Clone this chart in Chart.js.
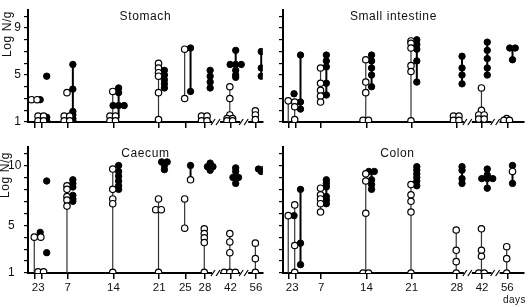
<!DOCTYPE html>
<html>
<head>
<meta charset="utf-8">
<script src="https://cdn.jsdelivr.net/npm/chart.js@4.4.1/dist/chart.umd.min.js"></script>
<style>
  body { margin: 0; background: #fff; }
  #fig { position: relative; width: 529px; height: 307px; font-family: "Liberation Sans", Arial, sans-serif; }
  #fig canvas { position: absolute; }
  #days { position: absolute; left: 503px; top: 294px; font-size: 10px; color: #111; letter-spacing: 0.5px; }
</style>
</head>
<body>
<div id="fig">
  <canvas id="stomach" width="268" height="137" style="left:0;top:0"></canvas>
  <canvas id="smallInt" width="276" height="137" style="left:253px;top:0"></canvas>
  <canvas id="caecum" width="268" height="170" style="left:0;top:137px"></canvas>
  <canvas id="colon" width="276" height="170" style="left:253px;top:137px"></canvas>
  <div id="days">days</div>
</div>
<script>
// sampling days (left panels have day 25, right panels don't)
const daysLeft = [2, 3, 7, 14, 21, 25, 28, 42, 56];
const daysRight = [2, 3, 7, 14, 21, 28, 42, 56];

// Stomach: log N/g per day, open = one group, filled = the other
const stomachOpen = [
  [2.9, 2.9], [1.5, 1.5, 1.1, 1.1], [3.5, 1.5, 1.5, 1.1, 1.1], [3.6, 1.5, 1.5, 1.1, 1.1],
  [6.0, 5.6, 5.2, 4.9, 3.5, 1.2], [7.2, 3.0], [1.5, 1.5, 1.1, 1.1],
  [4.0, 3.0, 1.6, 1.3, 1.3, 1.1, 1.1], [1.95, 1.6, 1.2]
];
const stomachFilled = [
  [2.9], [4.9, 1.4, 1.1], [5.9, 3.8, 1.9, 1.6, 1.3, 1.1], [3.9, 3.5, 2.4, 2.4, 2.4],
  [5.4, 5.0, 4.6, 4.25, 3.9], [7.3, 3.6], [5.4, 4.9, 4.4, 3.9],
  [7.1, 5.9, 5.9, 5.9, 5.4, 5.0, 4.8], [7.0, 5.6, 4.9]
];
const stomachOpenLines = [[14, 1.1, 3.6], [21, 1.2, 6.0], [25, 3.0, 7.2], [42, 1.1, 4.0], [56, 1.2, 1.95]];
const stomachFilledLines = [[7, 1.1, 5.9], [14, 1.3, 3.9], [21, 3.9, 5.4], [25, 3.6, 7.3], [42, 4.8, 7.1], [56, 4.9, 7.0]];

// Small intestine
const siOpen = [
  [2.8], [2.7, 2.3, 1.2], [5.6, 4.3, 3.7, 3.2, 2.7], [6.3, 4.4, 3.5, 1.15, 1.15],
  [7.9, 7.7, 7.3, 5.8, 5.3, 1.1], [1.5, 1.5, 1.15, 1.15],
  [3.9, 2.0, 1.6, 1.6, 1.25, 1.25], [1.3, 1.15, 1.15]
];
const siFilled = [
  [3.4], [6.7, 2.7, 2.1], [6.7, 6.2, 5.7, 4.3, 3.3], [6.7, 6.2, 5.6, 5.0, 4.0],
  [8.0, 7.6, 7.2, 6.2, 4.4], [6.6, 5.6, 5.0, 4.25], [7.8, 7.1, 6.4, 5.6, 5.0], [7.3, 7.3, 6.3]
];
const siOpenLines = [[2, 1.0, 2.8], [3, 1.2, 2.7], [7, 4.3, 5.6], [14, 1.15, 6.3], [21, 1.1, 7.9], [42, 1.25, 3.9]];
const siFilledLines = [[3, 2.1, 6.7], [7, 3.3, 6.7], [14, 4.0, 6.7], [21, 4.4, 8.0], [28, 4.25, 6.6], [42, 5.0, 7.8], [56, 6.3, 7.3]];

// Caecum
const caecumOpen = [
  [4.0], [4.0, 1.1, 1.1], [8.3, 8.0, 7.4, 7.1, 6.6], [9.7, 8.0, 7.2, 6.8, 1.05],
  [7.2, 6.3, 6.3, 1.05], [7.2, 4.75], [4.7, 4.3, 3.95, 3.55, 1.05],
  [4.3, 3.6, 2.7, 1.05, 1.05, 1.05], [3.5, 2.2, 1.05]
];
const caecumFilled = [
  [4.4], [8.7, 2.7], [8.8, 8.5, 8.2, 7.5, 7.2, 7.0], [10.0, 9.5, 9.1, 8.7, 8.3, 8.0],
  [10.3, 10.3, 10.0, 9.65], [10.0], [10.2, 9.9, 9.9, 9.6], [9.8, 9.5, 9.0, 9.0, 8.5], [9.7, 9.7, 9.5]
];
const caecumOpenInFilled = [[25, 8.8]];
const caecumOpenLines = [[2, 1.0, 4.0], [7, 1.0, 6.6], [14, 1.05, 9.7], [21, 1.05, 7.2], [25, 4.75, 7.2], [28, 1.05, 4.7], [42, 1.05, 4.3], [56, 1.05, 3.5]];
const caecumFilledLines = [[14, 8.0, 10.0], [21, 9.65, 10.3], [25, 8.8, 10.0]];

// Colon
const colonOpen = [
  [5.8], [6.7, 3.3, 1.05], [8.1, 7.55, 7.2, 6.8, 6.1], [9.3, 8.7, 6.0, 1.0, 1.0],
  [8.4, 7.55, 7.0, 6.1, 1.0], [4.6, 2.9, 1.95, 1.0], [4.7, 2.9, 2.4, 1.0, 1.0], [3.2, 2.2, 1.0]
];
const colonFilled = [
  [5.8], [8.0, 3.5, 1.7], [8.8, 8.5, 8.2, 7.4, 7.1, 6.8], [9.5, 9.5, 8.8, 8.4, 8.0],
  [9.9, 9.6, 9.3, 9.0, 8.7, 8.3], [9.9, 9.6, 8.9, 8.5], [9.7, 9.2, 8.9, 8.9, 8.9, 8.1], [10.0, 8.5]
];
const colonOpenInFilled = [[56, 9.5]];
const colonOpenLines = [[2, 1.0, 5.8], [3, 1.05, 6.7], [7, 6.1, 8.1], [14, 1.0, 9.3], [21, 1.0, 8.4], [28, 1.0, 4.6], [42, 1.0, 4.7], [56, 1.0, 3.2]];
const colonFilledLines = [[3, 1.7, 8.0], [7, 6.8, 8.8], [14, 8.0, 9.5], [21, 8.3, 9.9], [28, 8.5, 9.9], [42, 8.1, 9.7], [56, 8.5, 10.0]];

// broken time axis: after day 28 the scale is compressed
const axisPos = d => d <= 28 ? d : 28 + (d - 28) * 0.279;
const axisBreaks = [29.7, 34.0];

const OPEN_OFF = -0.1, FILLED_OFF = 0.8;

function spread(groups, days, off) {
  const pts = [];
  groups.forEach((vals, i) => {
    const count = {}, used = {};
    vals.forEach(v => { count[v] = (count[v] || 0) + 1; });
    vals.forEach(v => {
      const k = used[v] || 0;
      used[v] = k + 1;
      pts.push({ x: axisPos(days[i]) + off + (k - (count[v] - 1) / 2) * 0.85, y: v });
    });
  });
  return pts;
}

function stems(lines, off) {
  const pts = [];
  lines.forEach(([d, lo, hi]) => {
    const x = axisPos(d) + off;
    pts.push({ x: x, y: lo }, { x: x, y: hi }, { x: x, y: null });
  });
  return pts;
}

const panelText = {
  id: 'panelText',
  afterDraw(chart, args, opts) {
    const ctx = chart.ctx, a = chart.chartArea, xs = chart.scales.x;
    ctx.save();
    // axis breaks
    axisBreaks.forEach(p => {
      const px = xs.getPixelForValue(p), py = a.bottom;
      ctx.fillStyle = '#fff';
      ctx.fillRect(px - 4, py - 2, 8, 4);
      ctx.strokeStyle = '#000';
      ctx.lineWidth = 1.2;
      ctx.beginPath();
      ctx.moveTo(px - 5, py + 3); ctx.lineTo(px - 1, py - 3);
      ctx.moveTo(px, py + 3); ctx.lineTo(px + 4, py - 3);
      ctx.stroke();
    });
    ctx.fillStyle = '#111';
    ctx.font = '12px "Liberation Sans", Arial, sans-serif';
    ctx.textAlign = 'center';
    ctx.textBaseline = 'middle';
    if ('letterSpacing' in ctx) ctx.letterSpacing = '0.6px';
    ctx.fillText(opts.title, (a.left + a.right) / 2 + (opts.titleDx || 0), a.top + 6);
    if (opts.ylabel) {
      ctx.translate(opts.ylabelX || 8, opts.ylabelY);
      ctx.rotate(-Math.PI / 2);
      ctx.fillText(opts.ylabel, 0, 0);
    }
    ctx.restore();
  }
};

function makePanel(id, cfg) {
  const font = { family: '"Liberation Sans", Arial, sans-serif', size: 12 };
  const xFont = { family: '"Liberation Sans", Arial, sans-serif', size: 11.5 };
  const datasets = [
    { type: 'line', data: stems(cfg.openLines, OPEN_OFF), borderColor: '#333', borderWidth: 1.2,
      pointRadius: 0, spanGaps: false, fill: false, order: 4 },
    { type: 'line', data: stems(cfg.filledLines, FILLED_OFF), borderColor: '#000', borderWidth: 2,
      pointRadius: 0, spanGaps: false, fill: false, order: 3 },
    { data: spread(cfg.filled, cfg.days, FILLED_OFF), backgroundColor: '#000', borderColor: '#000',
      borderWidth: 1, pointRadius: 3.2, order: 2 },
    { data: spread(cfg.open, cfg.days, OPEN_OFF)
        .concat((cfg.openInFilled || []).map(([d, v]) => ({ x: axisPos(d) + FILLED_OFF, y: v }))),
      backgroundColor: '#fff', borderColor: '#000', borderWidth: 1.2, pointRadius: 3.2, order: 1 }
  ];
  new Chart(document.getElementById(id), {
    type: 'scatter',
    data: { datasets: datasets },
    plugins: [panelText],
    options: {
      responsive: false,
      animation: false,
      layout: { padding: cfg.padding },
      plugins: {
        legend: { display: false },
        tooltip: { enabled: false },
        panelText: { title: cfg.title, titleDx: cfg.titleDx, ylabel: cfg.ylabel, ylabelX: cfg.ylabelX, ylabelY: cfg.ylabelY }
      },
      scales: {
        x: {
          type: 'linear',
          min: cfg.xMin,
          max: cfg.xMax,
          afterBuildTicks: s => { s.ticks = cfg.days.map(d => ({ value: axisPos(d) })); },
          afterFit: s => { s.height = cfg.xh; },
          ticks: {
            autoSkip: false, maxRotation: 0, padding: 2, color: '#111', font: xFont,
            callback: (v, i) => cfg.showX ? String(cfg.days[i]) : ''
          },
          grid: { drawOnChartArea: false, drawTicks: true, tickLength: 6, color: '#000', lineWidth: 1.5 },
          border: { display: true, color: '#000', width: 2 }
        },
        y: {
          type: 'linear',
          min: 1,
          max: cfg.yMax,
          afterFit: s => { s.width = cfg.yw; },
          ticks: {
            stepSize: 1, includeBounds: false, autoSkip: false, padding: 3, color: '#111', font: font,
            crossAlign: cfg.yAlign || 'near',
            callback: v => cfg.yLabels.includes(Math.round(v)) ? String(Math.round(v)) : ''
          },
          grid: { drawOnChartArea: false, drawTicks: true, tickLength: 4, color: '#000', lineWidth: 1.2 },
          border: { display: true, color: '#000', width: 2 }
        }
      }
    }
  });
}

makePanel('stomach', {
  title: 'Stomach', ylabel: 'Log N/g', ylabelY: 34, days: daysLeft,
  open: stomachOpen, filled: stomachFilled, openLines: stomachOpenLines, filledLines: stomachFilledLines,
  xMin: 0.94, xMax: 36.85, yMax: 10.52, yLabels: [1, 5, 9], showX: false,
  yw: 28, xh: 15, padding: { top: 2, right: 3 }
});
makePanel('smallInt', {
  title: 'Small intestine', titleDx: -10, days: daysRight,
  open: siOpen, filled: siFilled, openLines: siOpenLines, filledLines: siFilledLines,
  xMin: 1.09, xMax: 38.36, yMax: 10.52, yLabels: [], showX: false,
  yw: 30, xh: 15, padding: { top: 2, right: 0 }
});
makePanel('caecum', {
  title: 'Caecum', ylabel: 'Log N/g', ylabelX: 6, ylabelY: 38, days: daysLeft,
  open: caecumOpen, filled: caecumFilled, openInFilled: caecumOpenInFilled,
  openLines: caecumOpenLines, filledLines: caecumFilledLines,
  xMin: 0.94, xMax: 36.85, yMax: 11.53, yLabels: [1, 5, 10], showX: true, yAlign: 'far',
  yw: 20, xh: 34, padding: { top: 5, right: 3, left: 8 }
});
makePanel('colon', {
  title: 'Colon', titleDx: -6, days: daysRight,
  open: colonOpen, filled: colonFilled, openInFilled: colonOpenInFilled,
  openLines: colonOpenLines, filledLines: colonFilledLines,
  xMin: 1.09, xMax: 38.36, yMax: 11.53, yLabels: [], showX: true,
  yw: 30, xh: 34, padding: { top: 5, right: 0 }
});
</script>
</body>
</html>
